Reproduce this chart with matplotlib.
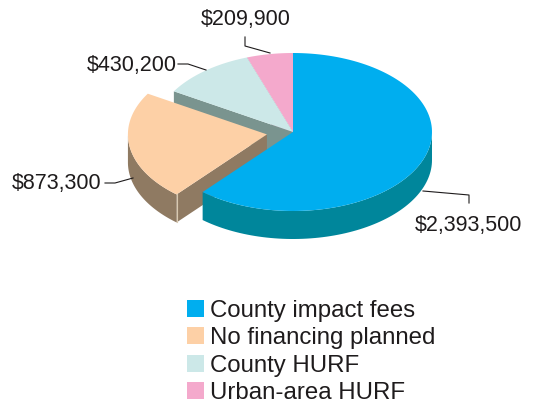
import numpy as np
import matplotlib.pyplot as plt
from matplotlib.patches import Polygon, Patch

# data
categories = ['County impact fees', 'No financing planned', 'County HURF', 'Urban-area HURF']
values = [2393500, 873300, 430200, 209900]
value_labels = ['$2,393,500', '$873,300', '$430,200', '$209,900']
explode = [0, 0.19, 0, 0]

top_colors = ['#00aeef', '#fdd0a6', '#cce8e8', '#f4a9cc']
side_colors = ['#00869b', '#8f7a62', '#7a948f', '#a87890']

plt.rcParams['font.family'] = ['Liberation Sans', 'DejaVu Sans']

fig = plt.figure(figsize=(5.35, 4.04), dpi=100)
ax = fig.add_axes([0, 0, 1, 1])
ax.set_xlim(0, 535)
ax.set_ylim(404, 0)
ax.axis('off')

# pie geometry in pixels
cx, cy, rx, ry, depth = 293, 132, 139, 79, 28


def rim(t, ox, oy, dz=0):
    t = np.radians(t)
    return cx + ox + rx * np.cos(t), cy + oy - ry * np.sin(t) + dz


fracs = np.array(values) / sum(values)
ends = 90 - 360 * np.cumsum(fracs)
starts = ends + 360 * fracs

slices = []
for i in range(len(values)):
    a, b = ends[i], starts[i]
    mid = np.radians((a + b) / 2)
    ox = explode[i] * rx * np.cos(mid)
    oy = -explode[i] * ry * np.sin(mid)
    slices.append((a, b, ox, oy))

# sides first (back to front), then tops
for i in reversed(range(len(values))):
    a, b, ox, oy = slices[i]
    # radial faces facing the viewer
    for edge, vis in ((a, np.cos(np.radians(a)) > 0), (b, np.cos(np.radians(b)) < 0)):
        if vis:
            x0, y0 = cx + ox, cy + oy
            x1, y1 = rim(edge, ox, oy)
            ax.add_patch(Polygon([(x0, y0), (x1, y1), (x1, y1 + depth), (x0, y0 + depth)],
                                 closed=True, facecolor=side_colors[i], edgecolor='none'))
    # outer curved side (front half only)
    for lo, hi in ((-180, 0), (180, 360)):
        s, e = max(a, lo), min(b, hi)
        if e > s:
            t = np.linspace(s, e, 80)
            xs, ys = rim(t, ox, oy)
            pts = list(zip(xs, ys)) + list(zip(xs[::-1], ys[::-1] + depth))
            ax.add_patch(Polygon(pts, closed=True, facecolor=side_colors[i], edgecolor='none'))
            if explode[i] > 0:
                ax.plot([xs[-1], xs[-1]], [ys[-1], ys[-1] + depth], color='#d9c9b0', lw=0.8)

for i in reversed(range(len(values))):
    a, b, ox, oy = slices[i]
    t = np.linspace(a, b, 120)
    xs, ys = rim(t, ox, oy)
    pts = [(cx + ox, cy + oy)] + list(zip(xs, ys))
    ax.add_patch(Polygon(pts, closed=True, facecolor=top_colors[i], edgecolor='none'))

# value labels with leader lines
label_pos = [(468, 225), (57, 183), (132, 65), (246, 20)]
leaders = [
    [(423, 191), (469, 195), (469, 203)],
    [(105, 183), (115, 183), (133, 178)],
    [(178, 64), (188, 64), (206, 70)],
    [(245, 37), (245, 46), (270, 53)],
]
for txt, (lx, ly), path in zip(value_labels, label_pos, leaders):
    ax.text(lx, ly, txt, fontsize=15.5, color='#1e1b1c', ha='center', va='center')
    px, py = zip(*path)
    ax.plot(px, py, color='#1e1b1c', lw=0.8)

handles = [Patch(facecolor=c, edgecolor='none') for c in top_colors]
ax.legend(handles, categories, loc='upper left', bbox_to_anchor=(187 / 535, 1 - 300 / 404),
          frameon=False, fontsize=17.3, handlelength=0.72, handleheight=0.72,
          handletextpad=0.25, labelspacing=0.22, borderpad=0, borderaxespad=0,
          labelcolor='#1e1b1c')

fig.savefig('out.png', dpi=100)
